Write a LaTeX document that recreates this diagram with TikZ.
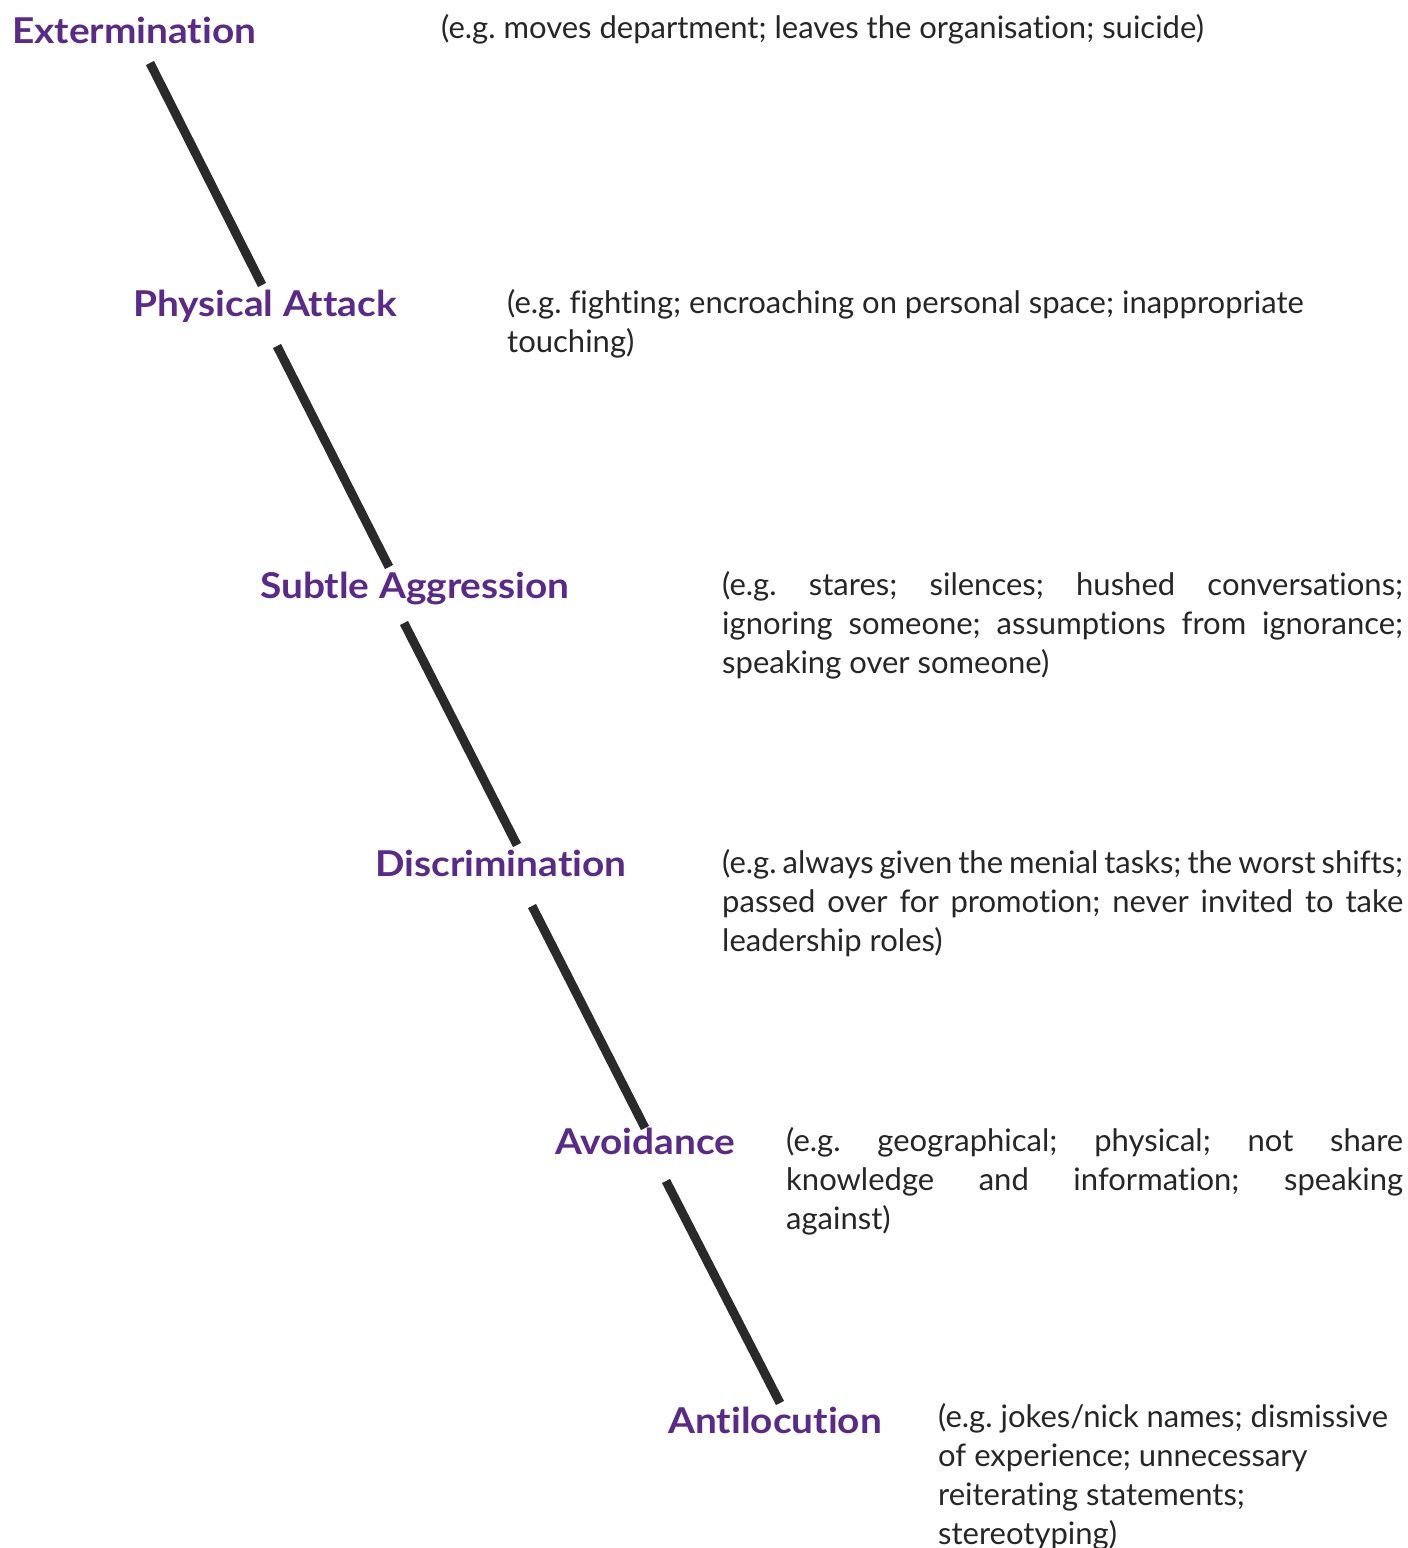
\documentclass[tikz,border=0pt]{standalone}
\usepackage{fontspec}
\setmainfont{Lato}[Ligatures={NoCommon,NoContextual}]
\newfontfamily\headfont{Lato}[FakeStretch=1.09,Ligatures={NoCommon,NoContextual}]
\definecolor{hp}{HTML}{5A2A88}
\definecolor{barc}{HTML}{2A2A2A}
\newcommand\vlines[1]{\vtop{\baselineskip=39pt\lineskiplimit=-1000pt\lineskip=0pt #1}}
\newcommand\jline[2]{\hbox{\makebox[#1][s]{#2}}}
\newcommand\rline[1]{\hbox{#1}}
\frenchspacing
\begin{document}
\begin{tikzpicture}[x=1pt,y=-1pt,
  head/.style={anchor=base west,inner sep=0,text=hp,font=\headfont\fontsize{35.6}{40}\selectfont\bfseries},
  body/.style={anchor=base west,inner sep=0,text=black!85,font=\fontsize{31}{39}\selectfont\frenchspacing},
  bar/.style={line width=9pt,draw=barc}]
\useasboundingbox[fill=white] (0,0) rectangle (1408,1548);

% headings
\node[head] (h1) at (12,43) {Extermination};
\node[head] (h2) at (133,316) {Physical Attack};
\node[head] (h3) at (260,598) {Subtle Aggression};
\node[head] (h4) at (375,876) {Discrimination};
\node[head] (h5) at (555,1154) {Avoidance};
\node[head] (h6) at (668,1433) {Antilocution};

% bar endpoints
\coordinate (a1) at (150,63);  \coordinate (b1) at (262,285);
\coordinate (a2) at (277,346); \coordinate (b2) at (389,567);
\coordinate (a3) at (404,623); \coordinate (b3) at (517,845);
\coordinate (a4) at (532,906); \coordinate (b4) at (645,1128);
\coordinate (a5) at (666,1181);\coordinate (b5) at (780,1403);
\foreach \i in {1,...,5} \draw[bar] (a\i) -- (b\i);

% descriptions
\node[body] (d1) at (441,38) {(e.g. moves department; leaves the organisation; suicide)};
\node[body] (d2) at (507,313) {\vlines{\rline{(e.g. fighting; encroaching on personal space; inappropriate}\rline{touching)}}};
\node[body] (d3) at (722,595) {\vlines{\jline{681pt}{(e.g. stares; silences; hushed conversations;}\jline{681pt}{ignoring someone; assumptions from ignorance;}\rline{speaking over someone)}}};
\node[body] (d4) at (722,873) {\vlines{\jline{681pt}{(e.g. always given the menial tasks; the worst shifts;}\jline{681pt}{passed over for promotion; never invited to take}\rline{leadership roles)}}};
\node[body] (d5) at (786,1151) {\vlines{\jline{617pt}{(e.g. geographical; physical; not share}\jline{617pt}{knowledge and information; speaking}\rline{against)}}};
\node[body] (d6) at (938,1427) {\vlines{\rline{(e.g. jokes/nick names; dismissive}\rline{of experience; unnecessary}\rline{reiterating statements;}\rline{stereotyping)}}};
\end{tikzpicture}
\end{document}
